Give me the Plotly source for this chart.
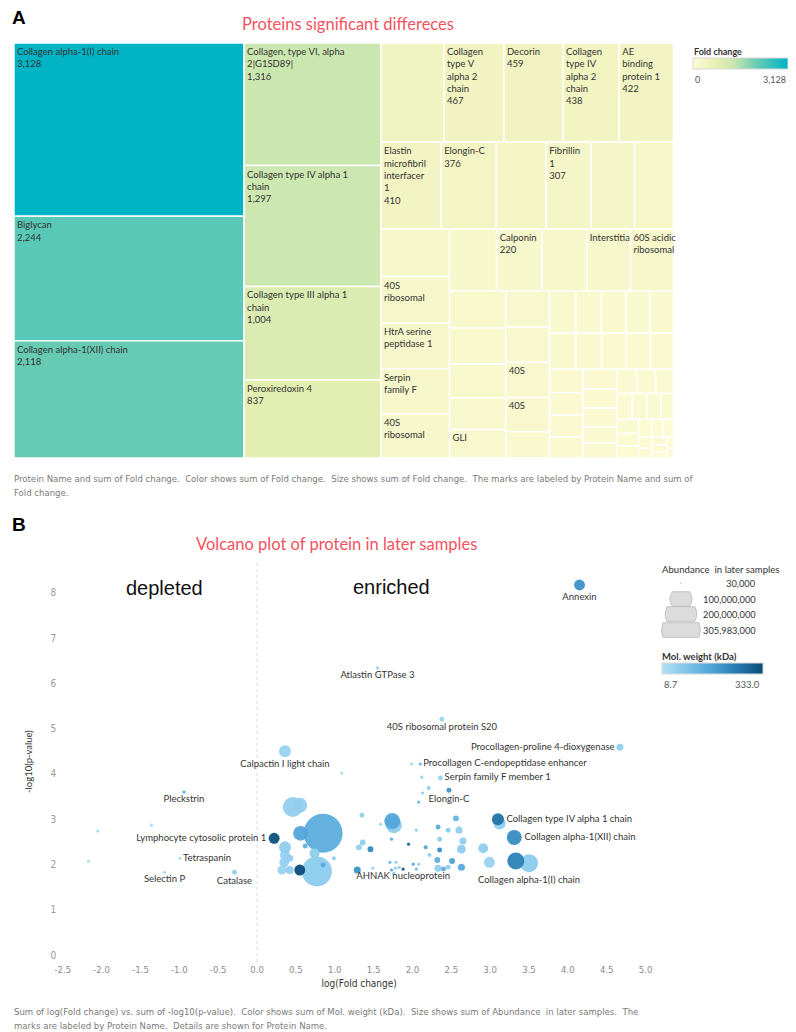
import numpy as np
import plotly.graph_objects as go

W, H = 796, 1032          # browser window
OFF = 8                   # default page body margin around the plot div
FW, FH = W - OFF, H - OFF  # figure size so that the page is filled exactly

# ---------------- Panel A: treemap data ----------------
tm_labels = [
    "Collagen alpha-1(I) chain", "Biglycan", "Collagen alpha-1(XII) chain",
    "Collagen, type VI, alpha<br>2|G1SD89|", "Collagen type IV alpha 1<br>chain",
    "Collagen type III alpha 1<br>chain", "Peroxiredoxin 4", "",
    "Collagen<br>type V<br>alpha 2<br>chain", "Decorin", "Collagen<br>type IV<br>alpha 2<br>chain",
    "AE<br>binding<br>protein 1", "Elastin<br>microfibril<br>interfacer<br>1", "Elongin-C", "",
    "Fibrillin<br>1", "", "", "", "40S<br>ribosomal", "HtrA serine<br>peptidase 1",
    "Serpin<br>family F", "40S<br>ribosomal", "", "Calponin", "", "Interstitial",
    "60S acidic<br>ribosomal",
    "", "", "", "", "GLI", "", "", "40S", "40S", "", "", "", "", "", "", "", "", "", "",
    "", "", "", "", "", "", "", "", "", "", "", "", "", "", "", "", "", "", "", "", "",
    "",
]
tm_values = [
    3128, 2244, 2118, 1316, 1297, 1004, 837, 490, 467, 459, 438, 422, 410, 376, 340,
    307, 295, 265, 255, 250, 246, 242, 238, 228, 220, 216, 212, 208,
    164, 160, 147, 140, 126, 124, 122, 120, 118, 90, 88, 85, 82, 80, 78, 75, 72, 70, 68,
    65, 62, 60, 58, 55, 52, 50, 48, 42, 40, 38, 36, 34, 32, 30, 28, 26, 24, 22, 20, 18,
    16, 14, 12, 10, 9, 8, 7, 6, 5,
]
# which text is shown in each mark: name + value, name only, nothing
tm_show = (["nv"] * 7 + ["-"] + ["nv"] * 6 + ["-", "nv", "-", "-", "-", "n", "n", "n", "n",
           "-", "nv", "-", "n", "n"])
tm_show += ["n" if lab else "-" for lab in tm_labels[len(tm_show):]]

# ---------------- Panel B: volcano data ----------------
vp_labels = [
    "Annexin", "Atlastin GTPase 3", "40S ribosomal protein S20",
    "Procollagen-proline 4-dioxygenase", "Procollagen C-endopeptidase enhancer",
    "Serpin family F member 1", "Elongin-C", "Collagen type IV alpha 1 chain",
    "Collagen alpha-1(XII) chain", "Collagen alpha-1(I) chain", "AHNAK nucleoprotein",
    "Calpactin I light chain", "Pleckstrin", "Lymphocyte cytosolic protein 1",
    "Tetraspanin", "Selectin P", "Catalase",
] + [""] * 66
vp_logfc = [
    4.15, 1.55, 2.38, 4.67, 2.10, 2.36, 2.47, 3.10, 3.31, 3.50, 1.88, 0.36, -0.94, 0.22,
    -0.99, -1.19, -0.29,
    -2.05, -1.36, -2.17, 1.09, 0.46, 0.55, 0.85, 0.56, 0.62, 0.36, 0.36, 0.35, 0.32, 0.42,
    0.42, 0.55, 0.77, 0.74, 0.85, 0.99, 1.35, 1.74, 1.76, 1.36, 1.31, 1.46, 1.29, 1.59,
    1.73, 1.95, 2.05, 2.08, 2.13, 2.21, 2.12, 1.99, 2.17, 2.22, 2.33, 2.46, 2.60, 2.56,
    2.35, 2.35, 2.65, 2.63, 2.32, 2.51, 2.33, 2.40, 2.46, 2.63, 2.91, 2.99, 2.01, 2.08,
    2.05, 1.83, 1.78, 1.73, 1.79, 1.71, 1.49, 1.76, 3.33, 3.12,
]
vp_neglogp = [
    8.17, 6.34, 5.21, 4.59, 4.22, 3.91, 3.64, 3.00, 2.60, 2.03, 1.90, 4.50, 3.60, 2.58,
    2.14, 1.83, 1.83,
    2.74, 2.87, 2.07, 4.02, 3.27, 3.31, 2.69, 2.69, 2.41, 2.38, 2.21, 2.05, 1.88, 2.14,
    1.88, 1.88, 1.85, 2.25, 1.99, 2.14, 3.09, 2.96, 2.87, 2.49, 2.38, 2.34, 1.88, 2.89,
    2.56, 2.45, 2.76, 3.38, 3.58, 3.69, 3.93, 4.22, 2.38, 2.21, 2.83, 2.76, 2.76, 3.02,
    2.56, 2.32, 2.52, 2.34, 2.10, 2.08, 1.92, 1.90, 1.94, 1.94, 2.36, 2.05, 2.01, 2.01,
    1.90, 1.94, 1.92, 1.88, 2.05, 2.05, 1.92, 1.81, 2.08, 2.91,
]
vp_molwt = [
    203, 50, 40, 60, 130, 46, 200, 262, 213, 70, 320, 50, 150, 326, 25, 30, 60,
    20, 20, 8.7, 30, 60, 60, 145, 160, 140, 60, 60, 55, 50, 60,
    60, 333.0, 70, 65, 150, 60, 55, 160, 70, 60, 60, 220, 200, 50,
    140, 280, 50, 120, 60, 60, 50, 40, 170, 60, 150, 70, 60, 130,
    60, 210, 60, 60, 140, 170, 60, 140, 60, 150, 60, 50, 150, 60,
    120, 60, 60, 150, 60, 120, 50, 60, 236, 60,
]
vp_abund = [
    24000000, 30000, 5000000, 10000000, 1800000, 5000000, 5000000, 29000000, 45000000,
    65000000, 500000, 29000000, 400000, 24000000, 90000, 60000, 5000000,
    80000, 70000, 50000, 60000, 80000000, 45000000, 305983000, 44000000, 5000000,
    29000000, 20000000, 19000000, 16000000, 10000000,
    13000000, 24000000, 181000000, 20000000, 5000000, 3200000, 5000000, 51000000,
    52000000, 7000000, 7000000, 7000000, 10000000, 500000,
    800000, 700000, 500000, 1800000, 1800000, 3200000, 400000, 400000, 3200000, 3200000,
    5000000, 5000000, 10000000, 7000000,
    5000000, 5000000, 10000000, 16000000, 7000000, 7000000, 10000000, 5000000, 5000000,
    10000000, 20000000, 24000000, 1800000, 1800000,
    1800000, 1800000, 1800000, 800000, 800000, 800000, 300000, 800000, 58000000, 30000000,
]
size_legend_ticks = [30000, 100000000, 200000000, 305983000]

# ---------------- styles ----------------
FONT = "Lato, 'Open Sans', sans-serif"
NARROW = "'Liberation Sans Narrow', 'DejaVu Sans Condensed', Lato, sans-serif"
ARIAL = "Arial, 'Liberation Sans', sans-serif"
RED = "#f4525e"
label_pos = {
    "Procollagen-proline 4-dioxygenase": "middle left",
    "Lymphocyte cytosolic protein 1": "middle left",
    "Procollagen C-endopeptidase enhancer": "middle right",
    "Serpin family F member 1": "middle right",
    "Collagen type IV alpha 1 chain": "middle right",
    "Collagen alpha-1(XII) chain": "middle right",
    "Tetraspanin": "middle right",
}
MAX_D = 39.0


def fx(px):
    """page pixel x -> figure paper fraction"""
    return (px - OFF) / FW


def fy(py):
    """page pixel y -> figure paper fraction"""
    return 1 - (py - OFF) / FH


fig = go.Figure()

# ---------------- treemap ----------------
templates = {"nv": "%{label}<br>%{value:,}", "n": "%{label}", "-": " "}
tm_max = max(tm_values)
fig.add_trace(go.Treemap(
    ids=[f"c{i}" for i in range(len(tm_values))],
    labels=tm_labels,
    parents=[""] * len(tm_values),
    values=tm_values,
    texttemplate=[templates[s] for s in tm_show],
    textposition="top left",
    textfont=dict(family=FONT, size=9.5, color="#333333"),
    sort=True,
    tiling=dict(packing="squarify", squarifyratio=1.618, pad=0),
    pathbar=dict(visible=False),
    marker=dict(
        colors=tm_values,
        colorscale=[[0.0, "#fbfad3"], [0.15, "#f1f4c1"], [0.27, "#e2efb1"],
                    [0.42, "#cbe7b0"], [0.68, "#66cbb4"], [1.0, "#00b4c5"]],
        cmin=0, cmax=tm_max,
        line=dict(color="white", width=1.5),
        pad=dict(t=0, l=0, r=0, b=0),
        showscale=True,
        colorbar=dict(orientation="h", x=fx(693), xanchor="left", y=fy(58), yanchor="top",
                      len=95, lenmode="pixels", thickness=11, xpad=0, ypad=0,
                      showticklabels=False, ticks="", outlinewidth=1,
                      outlinecolor="#d8d8d8"),
    ),
    domain=dict(x=[fx(11), fx(673)], y=[fy(458), fy(43)]),
    hoverinfo="label+value",
))

# ---------------- volcano ----------------
order = np.argsort(-np.array(vp_abund), kind="stable")
x = np.array(vp_logfc)[order]
y = np.array(vp_neglogp)[order]
mw = np.array(vp_molwt)[order]
ab = np.array(vp_abund, dtype=float)[order]
lab = [vp_labels[i] for i in order]
pos = [label_pos.get(t, "bottom center") for t in lab]
sizeref = 2.0 * max(vp_abund) / (MAX_D ** 2)

blues = [[0.0, "#b3e0f4"], [0.2, "#88cbec"], [0.45, "#56a9dc"], [0.7, "#2b82b9"],
         [1.0, "#0b4c79"]]
fig.add_trace(go.Scatter(
    x=x, y=y, mode="markers+text", text=lab, textposition=pos,
    textfont=dict(family=FONT, size=9.5, color="#333333"),
    marker=dict(size=ab, sizemode="area", sizeref=sizeref, sizemin=1.6,
                color=mw, colorscale=blues, cmin=min(vp_molwt), cmax=max(vp_molwt),
                opacity=0.95, line=dict(width=0), showscale=True,
                colorbar=dict(orientation="h", x=fx(661), xanchor="left", y=fy(663),
                              yanchor="top", len=101, lenmode="pixels", thickness=11,
                              xpad=0, ypad=0, showticklabels=False, ticks="",
                              outlinewidth=1, outlinecolor="#d8d8d8")),
    cliponaxis=False, showlegend=False, hoverinfo="text+x+y",
    xaxis="x", yaxis="y",
))

xt = [v / 2 for v in range(-5, 11)]
fig.update_layout(
    width=FW, height=FH, margin=dict(l=0, r=0, t=0, b=0),
    paper_bgcolor="white", plot_bgcolor="white",
    font=dict(family=FONT, color="#333333"),
    uniformtext=dict(minsize=9.5, mode="show"),
    xaxis=dict(domain=[fx(54.5), fx(660.6)], range=[-2.57, 5.2], tickvals=xt,
               ticktext=[f"{v:.1f}" for v in xt], showgrid=False, zeroline=False,
               showline=False, ticks="", tickfont=dict(family=NARROW, size=9.5, color="#8a8a8a"),
               title=dict(text="log(Fold change)", font=dict(family=NARROW, size=10, color="#333"),
                          standoff=6)),
    yaxis=dict(domain=[fy(962), fy(561)], range=[-0.15, 8.7], dtick=1, showgrid=False,
               zeroline=False, showline=False, ticks="",
               tickfont=dict(family=NARROW, size=10, color="#9a9a9a"),
               title=dict(text="-log10(p-value)", font=dict(family=FONT, size=9.5, color="#333"),
                          standoff=16)),
)

# zero reference line
fig.add_shape(type="line", xref="x", yref="y domain", x0=0, x1=0, y0=0, y1=1,
              line=dict(color="#dcdcdc", width=1, dash="dot"), layer="below")

ann = []


def add_text(text, px, py, size, color="#333333", xanchor="left", yanchor="middle",
             family=FONT, align="left"):
    ann.append(dict(text=text, x=fx(px), y=fy(py), xref="paper", yref="paper",
                    showarrow=False, xanchor=xanchor, yanchor=yanchor, align=align,
                    font=dict(family=family, size=size, color=color)))


add_text("<b>A</b>", 7, 17, 19, "#000000", family=ARIAL)
add_text("<b>B</b>", 7, 524, 19, "#000000", family=ARIAL)
add_text("Proteins significant differeces", 346, 24, 16.5, RED, xanchor="center")
add_text("Volcano plot of protein in later samples", 335, 544, 16.5, RED, xanchor="center")

add_text("<b>Fold change</b>", 692, 51, 9, "#333333")
add_text("0", 693, 79, 9, "#555555")
add_text(f"{tm_max:,}", 788, 79, 9, "#555555", xanchor="right")

add_text("Protein Name and sum of Fold change.  Color shows sum of Fold change.  Size shows "
         "sum of Fold change.  The marks are labeled by Protein Name and sum of",
         9, 478, 9.5, "#7a7a7a", family=NARROW)
add_text("Fold change.", 9, 492, 9.5, "#7a7a7a", family=NARROW)
add_text("Sum of log(Fold change) vs. sum of -log10(p-value).  Color shows sum of Mol. weight "
         "(kDa).  Size shows sum of Abundance  in later samples.  The",
         9, 1011, 9.5, "#7a7a7a", family=NARROW)
add_text("marks are labeled by Protein Name.  Details are shown for Protein Name.",
         9, 1025, 9.5, "#7a7a7a", family=NARROW)

ann.append(dict(text="depleted", x=-1.19, y=8.1, xref="x", yref="y", showarrow=False,
                font=dict(family=ARIAL, size=20, color="#111")))
ann.append(dict(text="enriched", x=1.73, y=8.12, xref="x", yref="y", showarrow=False,
                font=dict(family=ARIAL, size=20, color="#111")))

# size legend
add_text("Abundance \u00a0in later samples", 659, 569, 9.6, "#333333")
row_y = [583, 599, 614, 630]
cx = 680.5
for v, ry in zip(size_legend_ticks, row_y):
    add_text(f"{v:,}", 758, ry, 9.3, "#333333", xanchor="right")
    d = max(np.sqrt(2.0 * v / sizeref), 1.6)
    r = d / 2
    h = 7.3
    if r <= h:
        fig.add_shape(type="circle", xref="paper", yref="paper",
                      x0=fx(cx - r), x1=fx(cx + r), y0=fy(ry + r), y1=fy(ry - r),
                      fillcolor="#c8c8c8", line=dict(width=0))
    else:
        w = np.sqrt(r * r - h * h)
        pts = [(cx - w, ry - h), (cx + w, ry - h), (cx + 2 * r - w, ry), (cx + w, ry + h),
               (cx - w, ry + h), (cx - 2 * r + w, ry), (cx - w, ry - h)]
        P = [(fx(a), fy(b)) for a, b in pts]
        path = (f"M {P[0][0]},{P[0][1]} L {P[1][0]},{P[1][1]} Q {P[2][0]},{P[2][1]} "
                f"{P[3][0]},{P[3][1]} L {P[4][0]},{P[4][1]} Q {P[5][0]},{P[5][1]} "
                f"{P[6][0]},{P[6][1]} Z")
        fig.add_shape(type="path", xref="paper", yref="paper", path=path,
                      fillcolor="#dcdcdc", line=dict(color="#b8b8b8", width=0.8))

add_text("<b>Mol. weight (kDa)</b>", 659, 656, 9.5, "#333333")
add_text(f"{min(vp_molwt):.1f}", 661, 684, 9.5, "#555555")
add_text(f"{max(vp_molwt):.1f}", 762, 684, 9.5, "#555555", xanchor="right")

fig.update_layout(annotations=ann)
fig.write_html("out.html")
